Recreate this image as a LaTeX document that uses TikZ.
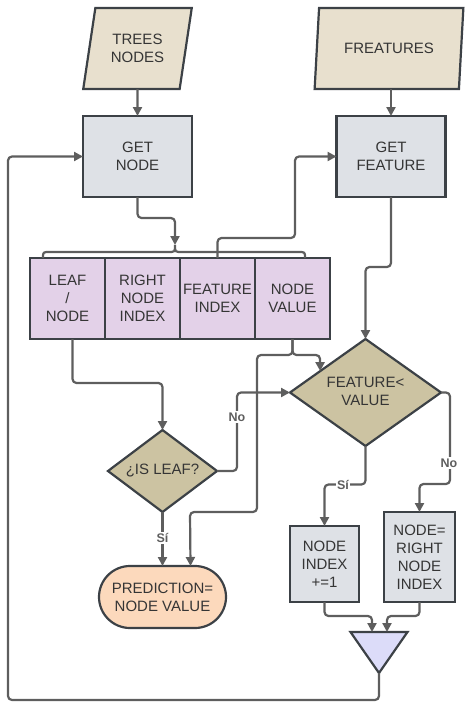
\documentclass[tikz,border=0pt]{standalone}
\usepackage{fontspec}
\setmainfont{Liberation Sans}
\usetikzlibrary{shapes.geometric,arrows.meta,calc}
\definecolor{edge}{HTML}{3C4146}
\definecolor{wire}{HTML}{5E5E5E}
\definecolor{inbeige}{HTML}{E8E0CE}
\definecolor{stepgray}{HTML}{DEE1E6}
\definecolor{fieldlilac}{HTML}{E3D1E8}
\definecolor{testkhaki}{HTML}{CCC3A2}
\definecolor{outpeach}{HTML}{FCD9BC}
\definecolor{joinblue}{HTML}{DCDCF9}
\definecolor{ink}{HTML}{353535}

\begin{document}
\begin{tikzpicture}[x=1pt,y=-1pt,
  every node/.style={font=\fontsize{15}{18}\selectfont, text=ink, align=center,
    inner sep=0pt, outer sep=0pt},
  base/.style={draw=edge, line width=2.2pt},
  inputbox/.style={base, trapezium, trapezium left angle=75, trapezium right angle=105,
    trapezium stretches=true, fill=inbeige, minimum height=81pt},
  procbox/.style={base, rectangle, fill=stepgray},
  fieldbox/.style={base, rectangle, fill=fieldlilac, minimum width=75pt, minimum height=81pt},
  testbox/.style={base, diamond, fill=testkhaki},
  endbox/.style={base, rectangle, rounded corners=31pt, fill=outpeach},
  arr/.style={draw=wire, line width=2.2pt, rounded corners=4pt,
    -{Triangle[length=9pt,width=9pt]}},
  wireline/.style={draw=wire, line width=2.2pt, rounded corners=4pt},
  lbl/.style={font=\fontsize{12.5}{13}\selectfont\bfseries, text=wire, fill=white, inner sep=1.5pt},
]
\useasboundingbox (0,0) rectangle (465,704);

% inputs
\node[inputbox, minimum width=109pt] (trees) at (137.5,48.5) {TREES\\NODES};
\node[inputbox, minimum width=150pt] (feats) at (389,48.5) {FREATURES};

% fetch steps
\node[procbox, minimum width=109pt, minimum height=81pt] (getnode) at (137.5,156.5) {GET\\NODE};
\node[procbox, minimum width=109pt, minimum height=81pt] (getfeat) at (391,156.5) {GET\\FEATURE};

% node record fields
\node[fieldbox] (c1) at (67.5,298.5) {LEAF\\/\\NODE};
\node[fieldbox] (c2) at (142.5,298.5) {RIGHT\\NODE\\INDEX};
\node[fieldbox] (c3) at (217.5,298.5) {FEATURE\\INDEX};
\node[fieldbox] (c4) at (292.5,298.5) {NODE\\VALUE};

% brace grouping the record fields
\coordinate (bracetip) at (175,245);
\draw[wireline, rounded corners=0pt] (43,258) .. controls (43,252) .. (50,252) -- (168,252)
  .. controls (175,252) .. (bracetip) .. controls (175,252) .. (182,252) -- (298,252)
  .. controls (305,252) .. (305,258);

% decisions
\node[testbox, minimum width=109pt, minimum height=82pt] (isleaf) at (162.5,471)
  {\makebox[0pt]{¿IS LEAF?}};
\node[testbox, minimum width=151pt, minimum height=107pt] (fc) at (365.5,392.5)
  {\makebox[0pt]{\begin{tabular}{@{}c@{}}FEATURE<\\VALUE\end{tabular}}};

% outcomes
\node[endbox, minimum width=127pt, minimum height=62pt] (pred) at (162.5,597)
  {PREDICTION=\\NODE VALUE};
\node[procbox, minimum width=69pt, minimum height=76pt] (ni) at (324.5,564)
  {NODE\\INDEX\\+=1};
\node[procbox, minimum width=71pt, minimum height=90pt] (nri) at (419.5,557)
  {NODE=\\RIGHT\\NODE\\INDEX};

% merge
\node[minimum width=57pt, minimum height=41pt] (merge) at (379,652.5) {};
\filldraw[base, fill=joinblue, line join=miter] (merge.north west) -- (merge.north east)
  -- (merge.south) -- cycle;

% connectors
\draw[arr] (trees) -- (getnode);
\draw[arr] (getfeat.north |- feats.south) -- (getfeat.north);
\draw[arr] (getnode.south) -- ++(0,21) -| (bracetip);
\draw[arr] (c3.north) |- (295,238) |- (getfeat.west);
\draw[arr] (merge.south) |- (8,700) |- (getnode.west);
\draw[arr] ([xshift=5pt]c1.south) -- ++(0,44) -| (isleaf.north);
\draw[arr] (isleaf.east) -- (237,471) |- (fc.west);
\node[lbl] (no1) at (237,417) {No};
\draw[arr] (isleaf.south) -- (isleaf.south |- pred.north);
\node[lbl] (si1) at (162.5,538) {Sí};
\draw[arr] (c4.south) |- (320,355) -- ($(fc.west)!0.4!(fc.north)$);
\draw[arr] (c4.south) |- (257,355) |- (190,512) -- ([xshift=28pt]pred.north);
\draw[arr] (getfeat.south) -- ++(0,70) -| (fc.north);
\draw[arr] (fc.east) -| (450,484) -| (nri.north);
\node[lbl] (no2) at (449,463) {No};
\draw[arr] (fc.south) -- ++(0,38.5) -| (ni.north);
\node[lbl] (si2) at (343,485) {Sí};
\draw[arr] (ni.south) -- ++(0,14) -| ([xshift=-7pt]merge.north);
\draw[arr] (nri.south) -- ++(0,14) -| ([xshift=8pt]merge.north);
\end{tikzpicture}
\end{document}
